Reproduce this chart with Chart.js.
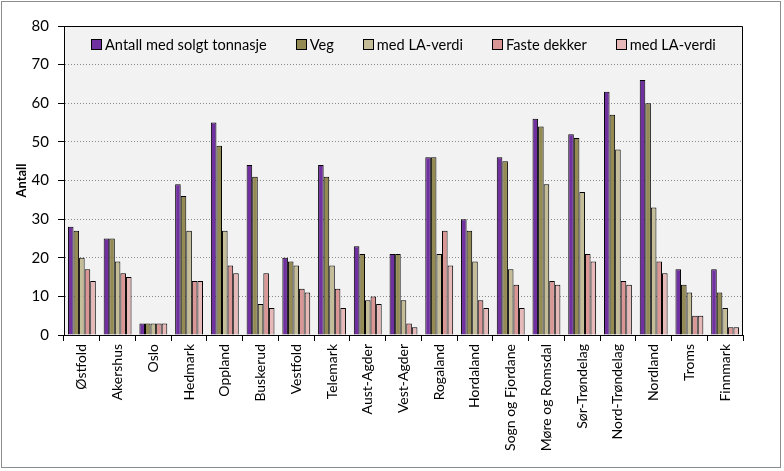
<!DOCTYPE html>
<html><head><meta charset="utf-8">
<script src="https://cdn.jsdelivr.net/npm/chart.js@4/dist/chart.umd.min.js"></script>
<style>html,body{margin:0;padding:0;background:#fff}#w{width:784px;height:471px}</style>
</head><body><div id="w"><canvas id="c" width="784" height="471"></canvas></div>
<script>
const categories = ["Østfold","Akershus","Oslo","Hedmark","Oppland","Buskerud","Vestfold","Telemark","Aust-Agder","Vest-Agder","Rogaland","Hordaland","Sogn og Fjordane","Møre og Romsdal","Sør-Trøndelag","Nord-Trøndelag","Nordland","Troms","Finnmark"];
const seriesNames = ["Antall med solgt tonnasje","Veg","med LA-verdi","Faste dekker","med LA-verdi"];
const antall = [28,25,3,39,55,44,20,44,23,21,46,30,46,56,52,63,66,17,17];
const veg = [27,25,3,36,49,41,19,41,21,21,46,27,45,54,51,57,60,13,11];
const vegLA = [20,19,3,27,27,8,18,18,9,9,21,19,17,39,37,48,33,11,7];
const faste = [17,16,3,14,18,16,12,12,10,3,27,9,13,14,21,14,19,5,2];
const fasteLA = [14,15,3,14,16,7,11,7,8,2,18,7,7,13,19,13,16,5,2];
const yTicks = [0,10,20,30,40,50,60,70,80];
const colors = ["#7030A0","#948A54","#C4BD97","#D99694","#E6B9B8"];

const FONT = "Lato, 'Open Sans', sans-serif";
const values = [antall, veg, vegLA, faste, fasteLA];

const bgPlugin = {
  id: 'bg',
  beforeDraw(chart) {
    const {ctx, chartArea: a} = chart;
    ctx.save();
    ctx.fillStyle = '#fff';
    ctx.fillRect(0,0,chart.width,chart.height);
    ctx.strokeStyle = '#8c8c8c';
    ctx.lineWidth = 1;
    ctx.strokeRect(1.5,1.5,779,466);
    ctx.fillStyle = '#F2F2F2';
    ctx.fillRect(a.left, a.top, a.right-a.left, a.bottom-a.top);
    ctx.restore();
  },
  afterDraw(chart) {
    const {ctx, chartArea: a} = chart;
    ctx.save();
    ctx.strokeStyle = '#000';
    ctx.lineWidth = 1;
    ctx.beginPath();
    ctx.moveTo(Math.round(a.left)-0.5, Math.round(a.top)+0.5);
    ctx.lineTo(Math.round(a.right)-0.5, Math.round(a.top)+0.5);
    ctx.lineTo(Math.round(a.right)-0.5, Math.round(a.bottom));
    ctx.stroke();
    // legend inside plot area
    ctx.font = '14.6px ' + FONT;
    ctx.textBaseline = 'middle';
    ctx.textAlign = 'left';
    const box = 10, gapBT = 4, gapItem = 29;
    const ds = chart.data.datasets;
    const widths = ds.map(d => ctx.measureText(d.label).width);
    const total = widths.reduce((s,w)=>s+box+gapBT+w,0) + gapItem*(ds.length-1);
    let x = Math.round((a.left + a.right)/2 - total/2);
    const y = a.top + 18;
    ds.forEach((d,i)=>{
      const bx = Math.round(x);
      ctx.fillStyle = d.backgroundColor;
      ctx.fillRect(bx+0.5, y-5+0.5, box, box);
      ctx.strokeStyle = '#000';
      ctx.strokeRect(bx+0.5, y-5+0.5, box, box);
      ctx.fillStyle = '#000';
      ctx.fillText(d.label, x+box+gapBT, y+1);
      x += box+gapBT+widths[i]+gapItem;
    });
    ctx.restore();
  }
};

new Chart(document.getElementById('c'), {
  type: 'bar',
  data: {
    labels: categories,
    datasets: seriesNames.map((n,i)=>({
      label: n,
      data: values[i],
      backgroundColor: colors[i],
      borderColor: '#000',
      borderWidth: 1,
      borderSkipped: 'bottom',
      categoryPercentage: 0.78,
      barPercentage: 1.0
    }))
  },
  options: {
    responsive: false,
    animation: false,
    devicePixelRatio: 1,
    layout: {padding: {left: 14, top: 26, right: 41, bottom: 0}},
    plugins: {
      legend: {display: false},
      tooltip: {enabled: false}
    },
    scales: {
      x: {
        grid: {display: true, drawOnChartArea: false, offset: true, color: '#000', tickLength: 6},
        border: {color: '#000'},
        ticks: {font: {family: FONT, size: 14}, color: '#000', maxRotation: 90, minRotation: 90, autoSkip: false, padding: 3},
        afterFit(s) { s.height = 136; }
      },
      y: {
        min: 0, max: 80,
        afterBuildTicks(s) { s.ticks = yTicks.map(v=>({value: v})); },
        grid: {
          color: '#8a8a8a',
          tickColor: '#000',
          tickLength: 6
        },
        border: {color: '#000', dash: [1,2]},
        ticks: {font: {family: FONT, size: 15}, color: '#000', padding: 9},
        title: {display: true, text: 'Antall', font: {family: FONT, size: 13, weight: 'bold'}, color: '#000', padding: 0},
        afterFit(s) { s.width = 50; }
      }
    }
  },
  plugins: [bgPlugin]
});
</script>
</body></html>
